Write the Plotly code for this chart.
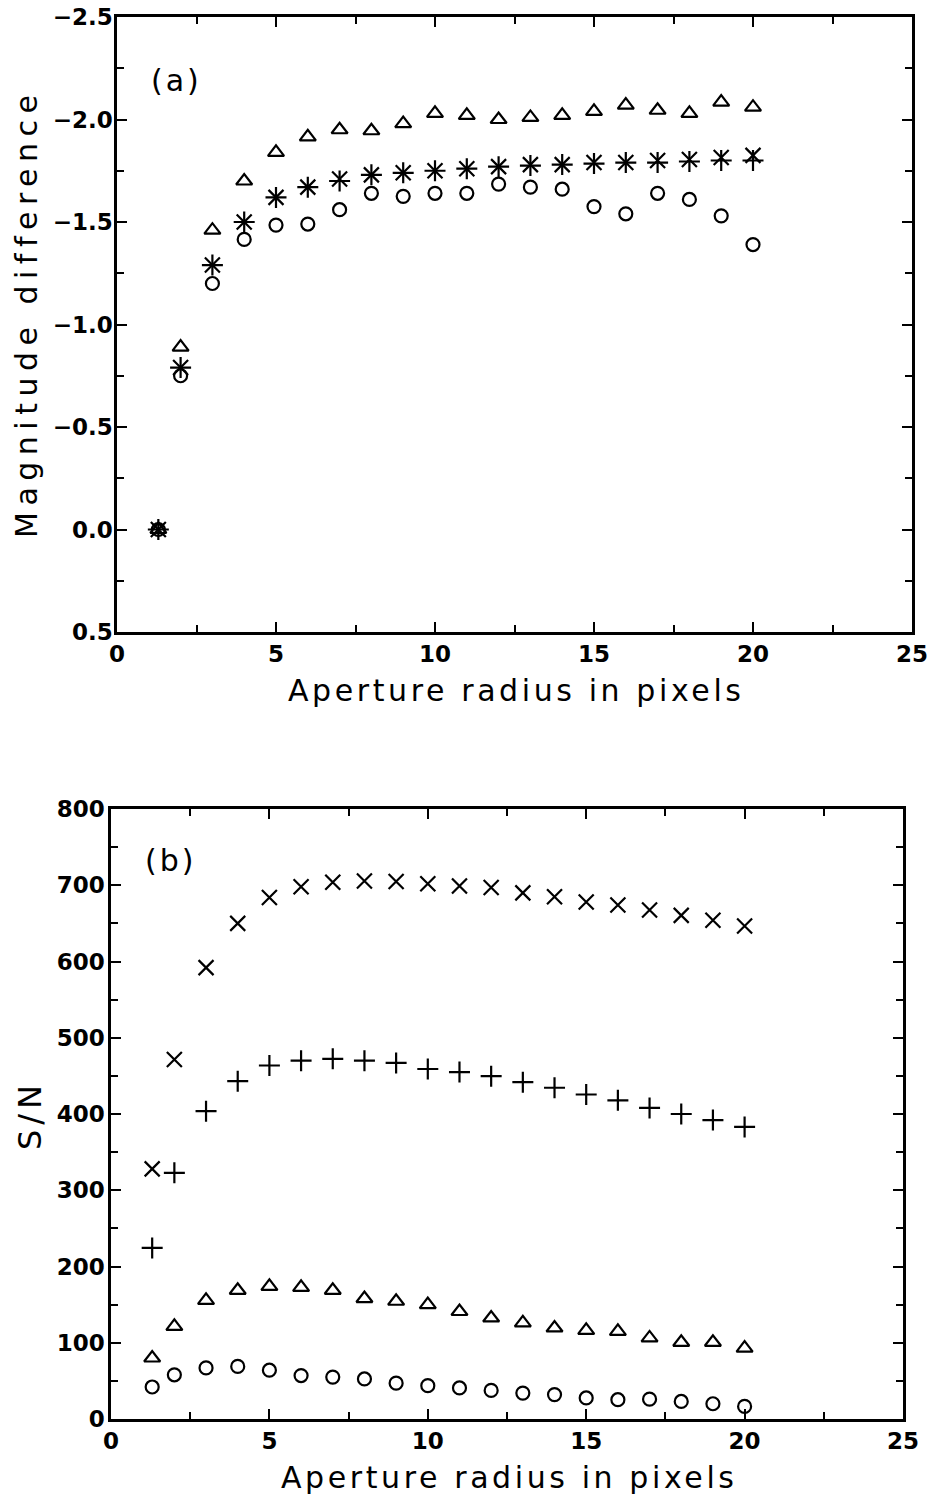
import plotly.graph_objects as go

# ---------------- data ----------------
radius = [1.3, 2, 3, 4, 5, 6, 7, 8, 9, 10, 11, 12, 13, 14, 15, 16, 17, 18, 19, 20]

# panel (a): magnitude difference
mag_cross = [0, -0.79, -1.29, -1.50, -1.62, -1.67, -1.71, -1.73, -1.74, -1.75,
             -1.76, -1.77, -1.78, -1.78, -1.79, -1.79, -1.80, -1.805, -1.815, -1.825]
mag_plus = [0, -0.79, -1.29, -1.50, -1.62, -1.67, -1.70, -1.73, -1.74, -1.75,
            -1.76, -1.77, -1.775, -1.78, -1.785, -1.79, -1.79, -1.795, -1.80, -1.80]
mag_tri = [0, -0.89, -1.46, -1.70, -1.84, -1.915, -1.95, -1.945, -1.98, -2.03,
           -2.02, -2.00, -2.01, -2.02, -2.04, -2.07, -2.045, -2.03, -2.085, -2.06]
mag_circ = [0, -0.75, -1.20, -1.415, -1.485, -1.49, -1.56, -1.64, -1.625, -1.64,
            -1.64, -1.685, -1.67, -1.66, -1.575, -1.54, -1.64, -1.61, -1.53, -1.39]

# panel (b): S/N
sn_cross = [328, 471.5, 592, 650, 684, 698, 704, 705.5, 705, 702,
            699, 697, 690, 685, 678, 674, 667.5, 660.5, 654, 646.5]
sn_plus = [224.4, 322.8, 403.7, 443, 463.6, 470, 472.4, 470, 467, 459,
           455, 449.6, 441.7, 434.4, 425.6, 418, 408, 400, 392, 383]
sn_tri = [80, 121.5, 155.6, 168.8, 174, 172.7, 168.8, 158, 154.4, 150,
          141, 132.5, 126, 119.4, 116.3, 115, 106.3, 100.6, 100.6, 93]
sn_circ = [42, 58, 67, 69, 64, 57, 55, 52.5, 47, 43.7,
           40.7, 37.5, 34, 32, 27.6, 25.3, 26, 23, 20, 16.5]

x_title = "Aperture radius in pixels"
ya_title = "Magnitude difference"
yb_title = "S/N"
label_a = "(a)"
label_b = "(b)"

# ---------------- layout constants ----------------
W, H = 928, 1498
FONT = "DejaVu Sans"


def px(x):
    return x / W


def py(y):
    return 1 - y / H


def spaced(text, sp):
    return '<span style="letter-spacing:%.1fpx">%s</span>' % (sp, text)


fig = go.Figure()

styles = [
    ("x-thin-open", 15),
    ("cross-thin-open", 15),
    ("triangle-up-open", 14),
    ("circle-open", 13),
]

for series, (sym, sz) in zip([mag_cross, mag_plus, mag_tri, mag_circ], styles):
    fig.add_trace(go.Scatter(
        x=radius, y=series, mode="markers", xaxis="x", yaxis="y",
        marker=dict(symbol=sym, size=sz, color="black",
                    line=dict(color="black", width=2.2)),
        showlegend=False, hoverinfo="x+y"))

for series, (sym, sz) in zip([sn_cross, sn_plus, sn_tri, sn_circ], styles):
    fig.add_trace(go.Scatter(
        x=radius, y=series, mode="markers", xaxis="x2", yaxis="y2",
        marker=dict(symbol=sym, size=sz, color="black",
                    line=dict(color="black", width=2.2)),
        showlegend=False, hoverinfo="x+y"))

tickfont = dict(family=FONT, size=23, color="black", weight="bold")
common = dict(
    showline=True, linecolor="black", linewidth=2.5, mirror="ticks",
    ticks="inside", ticklen=10, tickwidth=2, tickcolor="black",
    showgrid=False, zeroline=False, tickfont=tickfont, automargin=False,
    ticklabeloverflow="allow",
)
minor = dict(ticks="inside", ticklen=7, tickwidth=2, tickcolor="black", showgrid=False)

fig.update_layout(
    width=W, height=H,
    margin=dict(l=0, r=0, t=0, b=0),
    paper_bgcolor="white", plot_bgcolor="white",
    font=dict(family=FONT, color="black"),
    xaxis=dict(domain=[px(117), px(912)], anchor="y", range=[0, 25],
               tickmode="linear", tick0=0, dtick=5, ticklabelstandoff=0,
               minor=dict(minor, dtick=2.5), **common),
    yaxis=dict(domain=[py(632), py(17)], anchor="x", range=[0.5, -2.5],
               tickmode="linear", tick0=0, dtick=0.5, tickformat=".1f",
               ticklabelstandoff=-3, minor=dict(minor, dtick=0.25), **common),
    xaxis2=dict(domain=[px(111), px(903)], anchor="y2", range=[0, 25],
                tickmode="linear", tick0=0, dtick=5, ticklabelstandoff=0,
                minor=dict(minor, dtick=2.5), **common),
    yaxis2=dict(domain=[py(1419), py(809)], anchor="x2", range=[0, 800],
                tickmode="linear", tick0=0, dtick=100, ticklabelstandoff=-1,
                minor=dict(minor, dtick=50), **common),
)

ann_font = dict(family=FONT, size=30, color="black")
annotations = [
    dict(text=spaced(label_a, 3), x=px(176), y=py(81), font=ann_font),
    dict(text=spaced(label_b, 3), x=px(170), y=py(860), font=ann_font),
    dict(text=spaced(x_title, 3.6), x=px(516), y=py(690), font=ann_font),
    dict(text=spaced(x_title, 3.6), x=px(510), y=py(1477), font=ann_font),
    dict(text=spaced(ya_title, 6.5), x=px(26), y=py(313), font=ann_font, textangle=-90),
    dict(text=spaced(yb_title, 5), x=px(30), y=py(1115), font=dict(ann_font, size=32),
         textangle=-90),
]
for a in annotations:
    fig.add_annotation(xref="paper", yref="paper", xanchor="center", yanchor="middle",
                       showarrow=False, **a)

fig.write_html("out.html", config={"displayModeBar": False},
               post_script="document.body.style.margin='0px';document.body.style.overflow='hidden';")
